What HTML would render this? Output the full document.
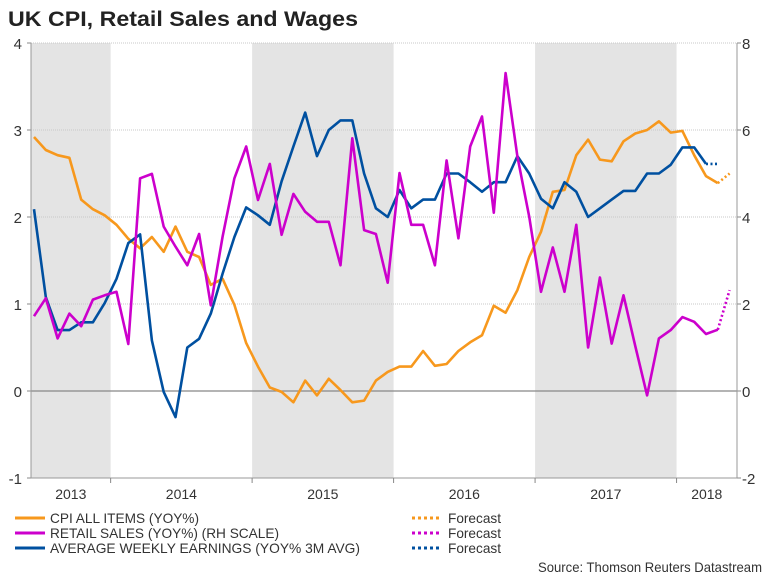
<!DOCTYPE html>
<html><head><meta charset="utf-8"><style>
body{margin:0;background:#fff;}
svg{display:block;font-family:"Liberation Sans",Arial,sans-serif;}
</style></head><body>
<svg id="chart" width="768" height="576" viewBox="0 0 768 576" xmlns="http://www.w3.org/2000/svg">
<text x="8" y="26" font-size="21" font-weight="bold" fill="#222" textLength="350" lengthAdjust="spacingAndGlyphs">UK CPI, Retail Sales and Wages</text>
<g id="bands"></g><g id="grid"></g><g id="axes"></g><g id="series"></g>
<g>
<line x1="15" y1="518" x2="45" y2="518" stroke="#f7981d" stroke-width="3"/>
<text x="50" y="523" font-size="14" fill="#333" textLength="149" lengthAdjust="spacingAndGlyphs">CPI ALL ITEMS (YOY%)</text>
<line x1="15" y1="533" x2="45" y2="533" stroke="#cc00cc" stroke-width="3"/>
<text x="50" y="538" font-size="14" fill="#333" textLength="229" lengthAdjust="spacingAndGlyphs">RETAIL SALES (YOY%) (RH SCALE)</text>
<line x1="15" y1="548" x2="45" y2="548" stroke="#0050a0" stroke-width="3"/>
<text x="50" y="553" font-size="14" fill="#333" textLength="310" lengthAdjust="spacingAndGlyphs">AVERAGE WEEKLY EARNINGS (YOY% 3M AVG)</text>
<line x1="412" y1="518" x2="442" y2="518" stroke="#f7981d" stroke-width="3" stroke-dasharray="3,3"/>
<text x="448" y="523" font-size="14" fill="#333" textLength="53" lengthAdjust="spacingAndGlyphs">Forecast</text>
<line x1="412" y1="533" x2="442" y2="533" stroke="#cc00cc" stroke-width="3" stroke-dasharray="3,3"/>
<text x="448" y="538" font-size="14" fill="#333" textLength="53" lengthAdjust="spacingAndGlyphs">Forecast</text>
<line x1="412" y1="548" x2="442" y2="548" stroke="#0050a0" stroke-width="3" stroke-dasharray="3,3"/>
<text x="448" y="553" font-size="14" fill="#333" textLength="53" lengthAdjust="spacingAndGlyphs">Forecast</text>
</g>
<text x="762" y="572" font-size="14" fill="#333" text-anchor="end" textLength="224" lengthAdjust="spacingAndGlyphs">Source: Thomson Reuters Datastream</text>
</svg>
<script>
const cpi=[2.92,2.77,2.71,2.68,2.20,2.09,2.02,1.91,1.75,1.64,1.77,1.60,1.89,1.60,1.54,1.22,1.29,0.99,0.55,0.28,0.04,-0.01,-0.13,0.12,-0.05,0.14,0.01,-0.13,-0.11,0.12,0.22,0.28,0.28,0.46,0.29,0.31,0.46,0.56,0.64,0.98,0.90,1.16,1.54,1.83,2.29,2.31,2.71,2.89,2.66,2.64,2.87,2.96,3.00,3.10,2.97,2.99,2.71,2.47,2.39];
const cpiForecast=[2.39,2.50];
const earnings=[2.09,1.08,0.70,0.70,0.79,0.79,1.01,1.29,1.70,1.80,0.58,-0.01,-0.30,0.50,0.60,0.89,1.35,1.77,2.11,2.02,1.91,2.41,2.81,3.20,2.70,3.00,3.11,3.11,2.50,2.10,2.00,2.31,2.10,2.20,2.20,2.50,2.50,2.40,2.29,2.40,2.40,2.70,2.50,2.21,2.10,2.40,2.29,2.00,2.10,2.20,2.30,2.30,2.50,2.50,2.60,2.80,2.80,2.61];
const earningsForecast=[2.61,2.61];
const retail=[1.72,2.13,1.21,1.78,1.49,2.10,2.20,2.28,1.08,4.89,4.99,3.78,3.32,2.89,3.61,1.97,3.55,4.89,5.62,4.39,5.22,3.59,4.53,4.12,3.89,3.89,2.89,5.81,3.70,3.61,2.49,5.01,3.82,3.82,2.89,5.30,3.51,5.62,6.31,4.10,7.31,5.39,4.01,2.28,3.30,2.28,3.82,1.00,2.61,1.09,2.20,1.03,-0.10,1.21,1.40,1.70,1.59,1.31,1.41];
const retailForecast=[1.41,2.32];
const leftTicks=[4,3,2,1,0,-1];
const rightTicks=[8,6,4,2,0,-2];
const years=["2013","2014","2015","2016","2017","2018"];
const yearStarts=[-5.5,6.5,18.5,30.5,42.5,54.5];
const shaded=[0,2,4];

const NS="http://www.w3.org/2000/svg";
const X0=31,X1=737,YT=43,YB=478;
const xAt=i=>34+i*11.79;
const yL=v=>YT+(4-v)*(YB-YT)/5;
const yR=v=>YT+(8-v)*(YB-YT)/10;
function mk(tag,attrs,parent){const e=document.createElementNS(NS,tag);for(const k in attrs)e.setAttribute(k,attrs[k]);document.getElementById(parent).appendChild(e);return e;}
function yearX(k){return k<yearStarts.length?Math.max(X0,xAt(yearStarts[k])):X1;}

shaded.forEach(k=>{
  const x1=yearX(k),x2=yearX(k+1);
  const r=mk('rect',{x:x1,y:YT,width:x2-x1,height:YB-YT,fill:'#e4e4e4'},'bands');
  
  
});
leftTicks.forEach((v,j)=>{
  if(v!==0&&v!==-1){const g=mk('line',{x1:X0,x2:X1,y1:yL(v),y2:yL(v),stroke:'#c8c8c8','stroke-dasharray':'1,1'},'grid');
  
  }
  const t=mk('text',{x:22,y:yL(v)+6,'font-size':15,fill:'#333','text-anchor':'end'},'axes');
  t.textContent=v;
  
  
  mk('line',{x1:X0-4,x2:X0,y1:yL(v),y2:yL(v),stroke:'#888'},'axes');
});
rightTicks.forEach(v=>{
  const t=mk('text',{x:742,y:yR(v)+6,'font-size':15,fill:'#333'},'axes');
  t.textContent=v;
  
  
  mk('line',{x1:X1,x2:X1+4,y1:yR(v),y2:yR(v),stroke:'#888'},'axes');
});
const z=mk('line',{x1:X0,x2:X1,y1:yL(0),y2:yL(0),stroke:'#888','stroke-width':1.2},'axes');


mk('line',{x1:X0,x2:X0,y1:YT,y2:YB,stroke:'#999'},'axes');
mk('line',{x1:X1,x2:X1,y1:YT,y2:YB,stroke:'#999'},'axes');
mk('line',{x1:X0,x2:X1,y1:YB,y2:YB,stroke:'#999'},'axes');
years.forEach((y,k)=>{
  const a=yearX(k),b=yearX(k+1);
  if(k>0)mk('line',{x1:a,x2:a,y1:YB,y2:YB+5,stroke:'#888'},'axes');
  const t=mk('text',{x:(a+b)/2,y:499,'font-size':14,fill:'#333','text-anchor':'middle'},'axes');
  t.textContent=y;
  
  
});
function line(vals,start,fy,color,dash,name){
  const pts=vals.map((v,i)=>xAt(start+i).toFixed(1)+','+fy(v).toFixed(1)).join(' ');
  const p=mk('polyline',{points:pts,fill:'none',stroke:color,'stroke-width':2.6,'stroke-linejoin':'round'},'series');
  if(dash)p.setAttribute('stroke-dasharray','2,2.5');
  
  
}
line(cpi,0,yL,'#f7981d',false,'cpi-line');
line(earnings,0,yL,'#0050a0',false,'earnings-line');
line(retail,0,yR,'#cc00cc',false,'retail-line');
line(cpiForecast,cpi.length-1,yL,'#f7981d',true,'cpi-forecast-line');
line(earningsForecast,earnings.length-1,yL,'#0050a0',true,'earnings-forecast-line');
line(retailForecast,retail.length-1,yR,'#cc00cc',true,'retail-forecast-line');
</script>
</body></html>
